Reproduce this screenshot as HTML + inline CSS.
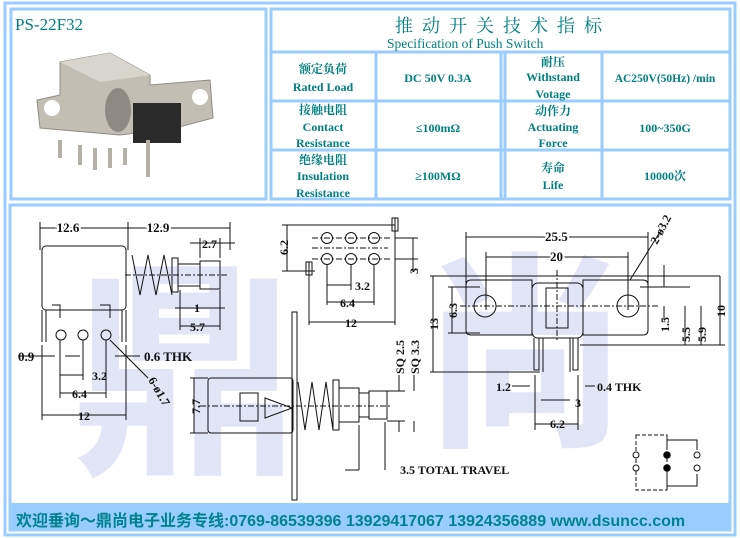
<!DOCTYPE html>
<html><head><meta charset="utf-8"><style>
body{margin:0;background:#fff;}
svg{display:block}
.t{font-family:"Liberation Serif","Noto Serif CJK SC",serif;fill:#008080;font-weight:bold}
.n{font-weight:normal}
.d{font-family:"Liberation Serif",serif;font-weight:bold;font-size:12px;fill:#111}
</style></head><body>
<svg width="740" height="538" viewBox="0 0 740 538" xmlns="http://www.w3.org/2000/svg">
<rect width="740" height="538" fill="#fff"/>
<!-- watermark -->
<text x="70" y="455" font-size="230" fill="#e2e5f6" font-family="Noto Sans CJK SC,sans-serif" font-weight="bold">鼎</text>
<text x="420" y="430" font-size="210" fill="#e2e5f6" font-family="Noto Sans CJK SC,sans-serif" font-weight="bold">尚</text>
<rect x="10" y="0" width="725" height="204" fill="#fff"/>
<g fill="none" stroke="#99ccff" stroke-width="3">
<rect x="5" y="3" width="730" height="532"/>
<rect x="11" y="9" width="255" height="190"/>
<rect x="271" y="9" width="459" height="190"/>
<rect x="10" y="205" width="720" height="325"/>
<line x1="271" y1="52" x2="730" y2="52"/>
<line x1="271" y1="101" x2="730" y2="101"/>
<line x1="271" y1="150" x2="730" y2="150"/>
<line x1="376" y1="52" x2="376" y2="199"/>
<line x1="501" y1="52" x2="501" y2="199"/>
<line x1="505" y1="52" x2="505" y2="199"/>
<line x1="602" y1="52" x2="602" y2="199"/>
</g>
<rect x="10" y="503" width="720" height="28" fill="#99ccff"/>
<!-- texts -->
<text class="t n" x="15" y="30" font-size="17">PS-22F32</text>
<text class="t n" x="395" y="32" font-size="18" letter-spacing="9">推动开关技术指标</text>
<text class="t n" x="387" y="48" font-size="13.5">Specification of Push Switch</text>
<g class="t" font-size="12" text-anchor="middle">
<text x="323" y="73">额定负荷</text><text x="323" y="91">Rated Load</text>
<text x="323" y="114">接触电阻</text><text x="323" y="131">Contact</text><text x="323" y="147">Resistance</text>
<text x="323" y="164">绝缘电阻</text><text x="323" y="180">Insulation</text><text x="323" y="197">Resistance</text>
<text x="438" y="82">DC 50V 0.3A</text>
<text x="438" y="132">≤100mΩ</text>
<text x="438" y="180">≥100MΩ</text>
<text x="553" y="66">耐压</text><text x="553" y="81">Withstand</text><text x="553" y="98">Votage</text>
<text x="553" y="115">动作力</text><text x="553" y="131">Actuating</text><text x="553" y="147">Force</text>
<text x="553" y="172">寿命</text><text x="553" y="189">Life</text>
<text x="665" y="82" font-size="11.5">AC250V(50Hz) /min</text>
<text x="665" y="132">100~350G</text>
<text x="665" y="180">10000次</text>
</g>
<!-- product photo approximation -->
<g>
<path d="M60 62 L110 53 L150 75 L150 85 L210 80 L213 118 L175 128 L120 135 L40 128 L37 100 L60 95 Z" fill="#c2beb4" stroke="#8f8c84"/>
<path d="M60 62 L110 53 L150 75 L100 82 Z" fill="#d8d5cc"/>
<circle cx="52" cy="108" r="8" fill="#fff"/>
<circle cx="200" cy="97" r="8" fill="#fff"/>
<ellipse cx="118" cy="110" rx="13" ry="22" fill="#8e8a82"/>
<rect x="133" y="103" width="48" height="40" fill="#2a2a2a"/>
<g stroke="#b5b1a8" stroke-width="4"><line x1="60" y1="140" x2="60" y2="158"/><line x1="80" y1="145" x2="80" y2="165"/><line x1="95" y1="148" x2="95" y2="170"/><line x1="110" y1="148" x2="110" y2="168"/><line x1="125" y1="148" x2="125" y2="165"/><line x1="148" y1="140" x2="148" y2="177"/></g>
</g>
<!-- drawings -->
<g stroke="#111" stroke-width="1" fill="none">
<line x1="40" y1="222" x2="40" y2="250"/><line x1="128" y1="222" x2="128" y2="250"/><line x1="230" y1="222" x2="230" y2="250"/>
<line x1="40" y1="228" x2="230" y2="228"/>
<rect x="42" y="246" width="84" height="64" rx="4"/>
<line x1="42" y1="310" x2="42" y2="342"/><line x1="46" y1="310" x2="46" y2="342"/>
<line x1="122" y1="310" x2="122" y2="342"/><line x1="126" y1="310" x2="126" y2="342"/>
<path d="M52 305 H60 V318 M100 305 H110 V318"/>
<circle cx="61" cy="335" r="5"/><circle cx="83" cy="335" r="5"/><circle cx="106" cy="335" r="5"/>
<path d="M132 255 L140 295 L148 255 L156 295 L164 255 L172 295"/>
<rect x="172" y="258" width="6" height="34"/>
<rect x="178" y="264" width="22" height="22"/><rect x="200" y="261" width="20" height="28"/>
<line x1="125" y1="275" x2="228" y2="275" stroke-dasharray="6,2,2,2"/>
<line x1="200" y1="238" x2="200" y2="258"/><line x1="220" y1="238" x2="220" y2="258"/><line x1="190" y1="243" x2="235" y2="243"/>
<line x1="180" y1="290" x2="180" y2="330"/><line x1="220" y1="290" x2="220" y2="330"/>
<line x1="175" y1="308" x2="225" y2="308"/><line x1="180" y1="326" x2="220" y2="326"/>
<line x1="18" y1="356" x2="55" y2="356"/><line x1="65" y1="356" x2="80" y2="356"/>
<line x1="60" y1="340" x2="60" y2="398"/><line x1="83" y1="340" x2="83" y2="380"/><line x1="106" y1="340" x2="106" y2="398"/>
<line x1="60" y1="375" x2="83" y2="375"/><line x1="60" y1="393" x2="106" y2="393"/>
<line x1="42" y1="345" x2="42" y2="420"/><line x1="126" y1="345" x2="126" y2="420"/>
<line x1="42" y1="415" x2="126" y2="415"/>
<line x1="110" y1="340" x2="148" y2="378"/>
<line x1="115" y1="356" x2="140" y2="356"/>
<g><circle cx="327" cy="238" r="5.5"/><circle cx="351" cy="238" r="5.5"/><circle cx="374" cy="238" r="5.5"/>
<circle cx="327" cy="259" r="5.5"/><circle cx="351" cy="259" r="5.5"/><circle cx="374" cy="259" r="5.5"/></g>
<line x1="312" y1="238" x2="390" y2="238" stroke-dasharray="6,2,2,2"/><line x1="312" y1="259" x2="390" y2="259" stroke-dasharray="6,2,2,2"/>
<line x1="312" y1="248" x2="388" y2="248" stroke-dasharray="6,2,2,2"/>
<line x1="282" y1="225" x2="395" y2="225"/><line x1="282" y1="271" x2="315" y2="271"/>
<line x1="287" y1="225" x2="287" y2="271"/>
<rect x="392" y="218" width="6" height="13"/><rect x="306" y="262" width="6" height="13"/>
<line x1="395" y1="218" x2="395" y2="325"/><line x1="309" y1="262" x2="309" y2="325"/>
<line x1="395" y1="238" x2="418" y2="238"/><line x1="395" y1="259" x2="418" y2="259"/><line x1="413" y1="238" x2="413" y2="272"/>
<line x1="327" y1="265" x2="327" y2="305"/><line x1="351" y1="265" x2="351" y2="290"/><line x1="374" y1="265" x2="374" y2="305"/>
<line x1="327" y1="285" x2="351" y2="285"/><line x1="327" y1="302" x2="374" y2="302"/><line x1="309" y1="322" x2="395" y2="322"/>
<rect x="292" y="312" width="5" height="188"/>
<rect x="208" y="378" width="85" height="55" rx="3"/>
<rect x="240" y="393" width="18" height="28"/>
<path d="M265 398 L292 408 L265 418 Z"/>
<path d="M298 382 L305 430 L312 382 L319 430 L326 382 L333 430"/>
<rect x="333" y="380" width="6" height="50"/>
<rect x="339" y="388" width="20" height="34"/><rect x="359" y="393" width="10" height="24"/><rect x="369" y="391" width="18" height="28"/>
<line x1="200" y1="406" x2="390" y2="406" stroke-dasharray="6,2,2,2"/>
<line x1="190" y1="378" x2="208" y2="378"/><line x1="190" y1="433" x2="208" y2="433"/><line x1="194" y1="378" x2="194" y2="433"/>
<line x1="387" y1="391" x2="405" y2="391"/><line x1="387" y1="421" x2="405" y2="421"/>
<line x1="399" y1="375" x2="399" y2="391"/><line x1="414" y1="375" x2="414" y2="391"/><line x1="399" y1="421" x2="399" y2="432"/><line x1="414" y1="421" x2="414" y2="432"/>
<line x1="359" y1="425" x2="359" y2="470"/><line x1="385" y1="422" x2="385" y2="470"/><line x1="345" y1="470" x2="359" y2="470"/>
<line x1="466" y1="232" x2="466" y2="290"/><line x1="648" y1="232" x2="648" y2="290"/><line x1="466" y1="237" x2="648" y2="237"/>
<line x1="486" y1="252" x2="486" y2="310"/><line x1="628" y1="252" x2="628" y2="310"/><line x1="486" y1="257" x2="628" y2="257"/>
<path d="M466 285 Q466 280 471 280 H532 V335 H471 Q466 335 466 330 Z"/>
<path d="M583 280 H643 Q648 280 648 285 V330 Q648 335 643 335 H583 Z"/>
<rect x="532" y="283" width="51" height="55" rx="6"/>
<rect x="546" y="288" width="22" height="40"/>
<circle cx="485" cy="306" r="11"/><circle cx="628" cy="306" r="11"/>
<line x1="460" y1="306" x2="660" y2="306" stroke-dasharray="6,2,2,2"/>
<line x1="557" y1="270" x2="557" y2="340" stroke-dasharray="6,2,2,2"/>
<path d="M534 338 V370 H539 V338 M573 338 V370 H578 V338 M543 338 V372 M570 338 V372"/>
<line x1="430" y1="276" x2="720" y2="276"/><line x1="430" y1="372" x2="540" y2="372"/>
<line x1="433" y1="276" x2="433" y2="372"/>
<line x1="448" y1="287" x2="480" y2="287"/><line x1="448" y1="333" x2="480" y2="333"/><line x1="452" y1="287" x2="452" y2="333"/>
<line x1="640" y1="287" x2="690" y2="287"/><line x1="664" y1="265" x2="664" y2="287"/><line x1="664" y1="306" x2="664" y2="320"/>
<line x1="685" y1="306" x2="685" y2="345"/><line x1="701" y1="306" x2="701" y2="345"/>
<line x1="580" y1="345" x2="725" y2="345"/><line x1="720" y1="276" x2="720" y2="345"/>
<line x1="630" y1="280" x2="660" y2="232"/>
<line x1="535" y1="375" x2="535" y2="430"/><line x1="578" y1="375" x2="578" y2="430"/>
<line x1="512" y1="386" x2="530" y2="386"/><line x1="585" y1="386" x2="595" y2="386"/>
<line x1="541" y1="400" x2="570" y2="400"/><line x1="535" y1="424" x2="578" y2="424"/>
<rect x="636" y="435" width="31" height="55" stroke-dasharray="4,2"/>
<path d="M667 435 V440 H697 V450 M667 490 V486 H697 V474 M667 440 V450 M667 486 V474"/>
<circle cx="636" cy="455" r="3" fill="#fff"/><circle cx="636" cy="468" r="3" fill="#fff"/>
<circle cx="697" cy="455" r="3" fill="#fff"/><circle cx="697" cy="468" r="3" fill="#fff"/>
<circle cx="667" cy="455" r="3.3" fill="#000"/><circle cx="667" cy="468" r="3.3" fill="#000"/>
</g>
<g class="d">
<text x="68" y="232" font-size="13" text-anchor="middle" style="paint-order:stroke" stroke="#fff" stroke-width="4">12.6</text>
<text x="158" y="232" font-size="13" text-anchor="middle" stroke="#fff" stroke-width="4" style="paint-order:stroke">12.9</text>
<text x="202" y="248">2.7</text>
<text x="194" y="312">1</text><text x="190" y="331">5.7</text>
<text x="18" y="361" font-size="13">0.9</text><text x="144" y="361" font-size="13">0.6 THK</text>
<text x="92" y="380">3.2</text><text x="72" y="398">6.4</text><text x="78" y="420">12</text>
<text x="148" y="380" transform="rotate(60 148 380)">6-ø1.7</text>
<text x="288" y="255" transform="rotate(-90 288 255)">6.2</text>
<text x="355" y="290">3.2</text><text x="340" y="307">6.4</text><text x="345" y="327">12</text>
<text x="418" y="274" transform="rotate(-90 418 274)">3</text>
<text x="200" y="414" transform="rotate(-90 200 414)">7.7</text>
<text x="404" y="374" transform="rotate(-90 404 374)">SQ 2.5</text>
<text x="419" y="374" transform="rotate(-90 419 374)">SQ 3.3</text>
<text x="400" y="474">3.5 TOTAL TRAVEL</text>
<text x="545" y="241" font-size="13" stroke="#fff" stroke-width="4" style="paint-order:stroke">25.5</text>
<text x="550" y="261" font-size="13" stroke="#fff" stroke-width="4" style="paint-order:stroke">20</text>
<text x="438" y="330" transform="rotate(-90 438 330)">13</text>
<text x="457" y="318" transform="rotate(-90 457 318)">6.3</text>
<text x="669" y="332" transform="rotate(-90 669 332)">1.5</text>
<text x="690" y="342" transform="rotate(-90 690 342)">5.5</text>
<text x="706" y="342" transform="rotate(-90 706 342)">5.9</text>
<text x="725" y="317" transform="rotate(-90 725 317)">10</text>
<text x="657" y="245" transform="rotate(-62 657 245)">2-ø3.2</text>
<text x="496" y="391">1.2</text><text x="597" y="391">0.4 THK</text>
<text x="575" y="407">3</text><text x="550" y="428">6.2</text>
</g>
<text x="16" y="526" font-family="Liberation Sans,Noto Sans CJK SC,sans-serif" font-weight="bold" font-size="16" fill="#00838f">欢迎垂询～鼎尚电子业务专线:0769-86539396  13929417067 13924356889  www.dsuncc.com</text>
</svg>
</body></html>
